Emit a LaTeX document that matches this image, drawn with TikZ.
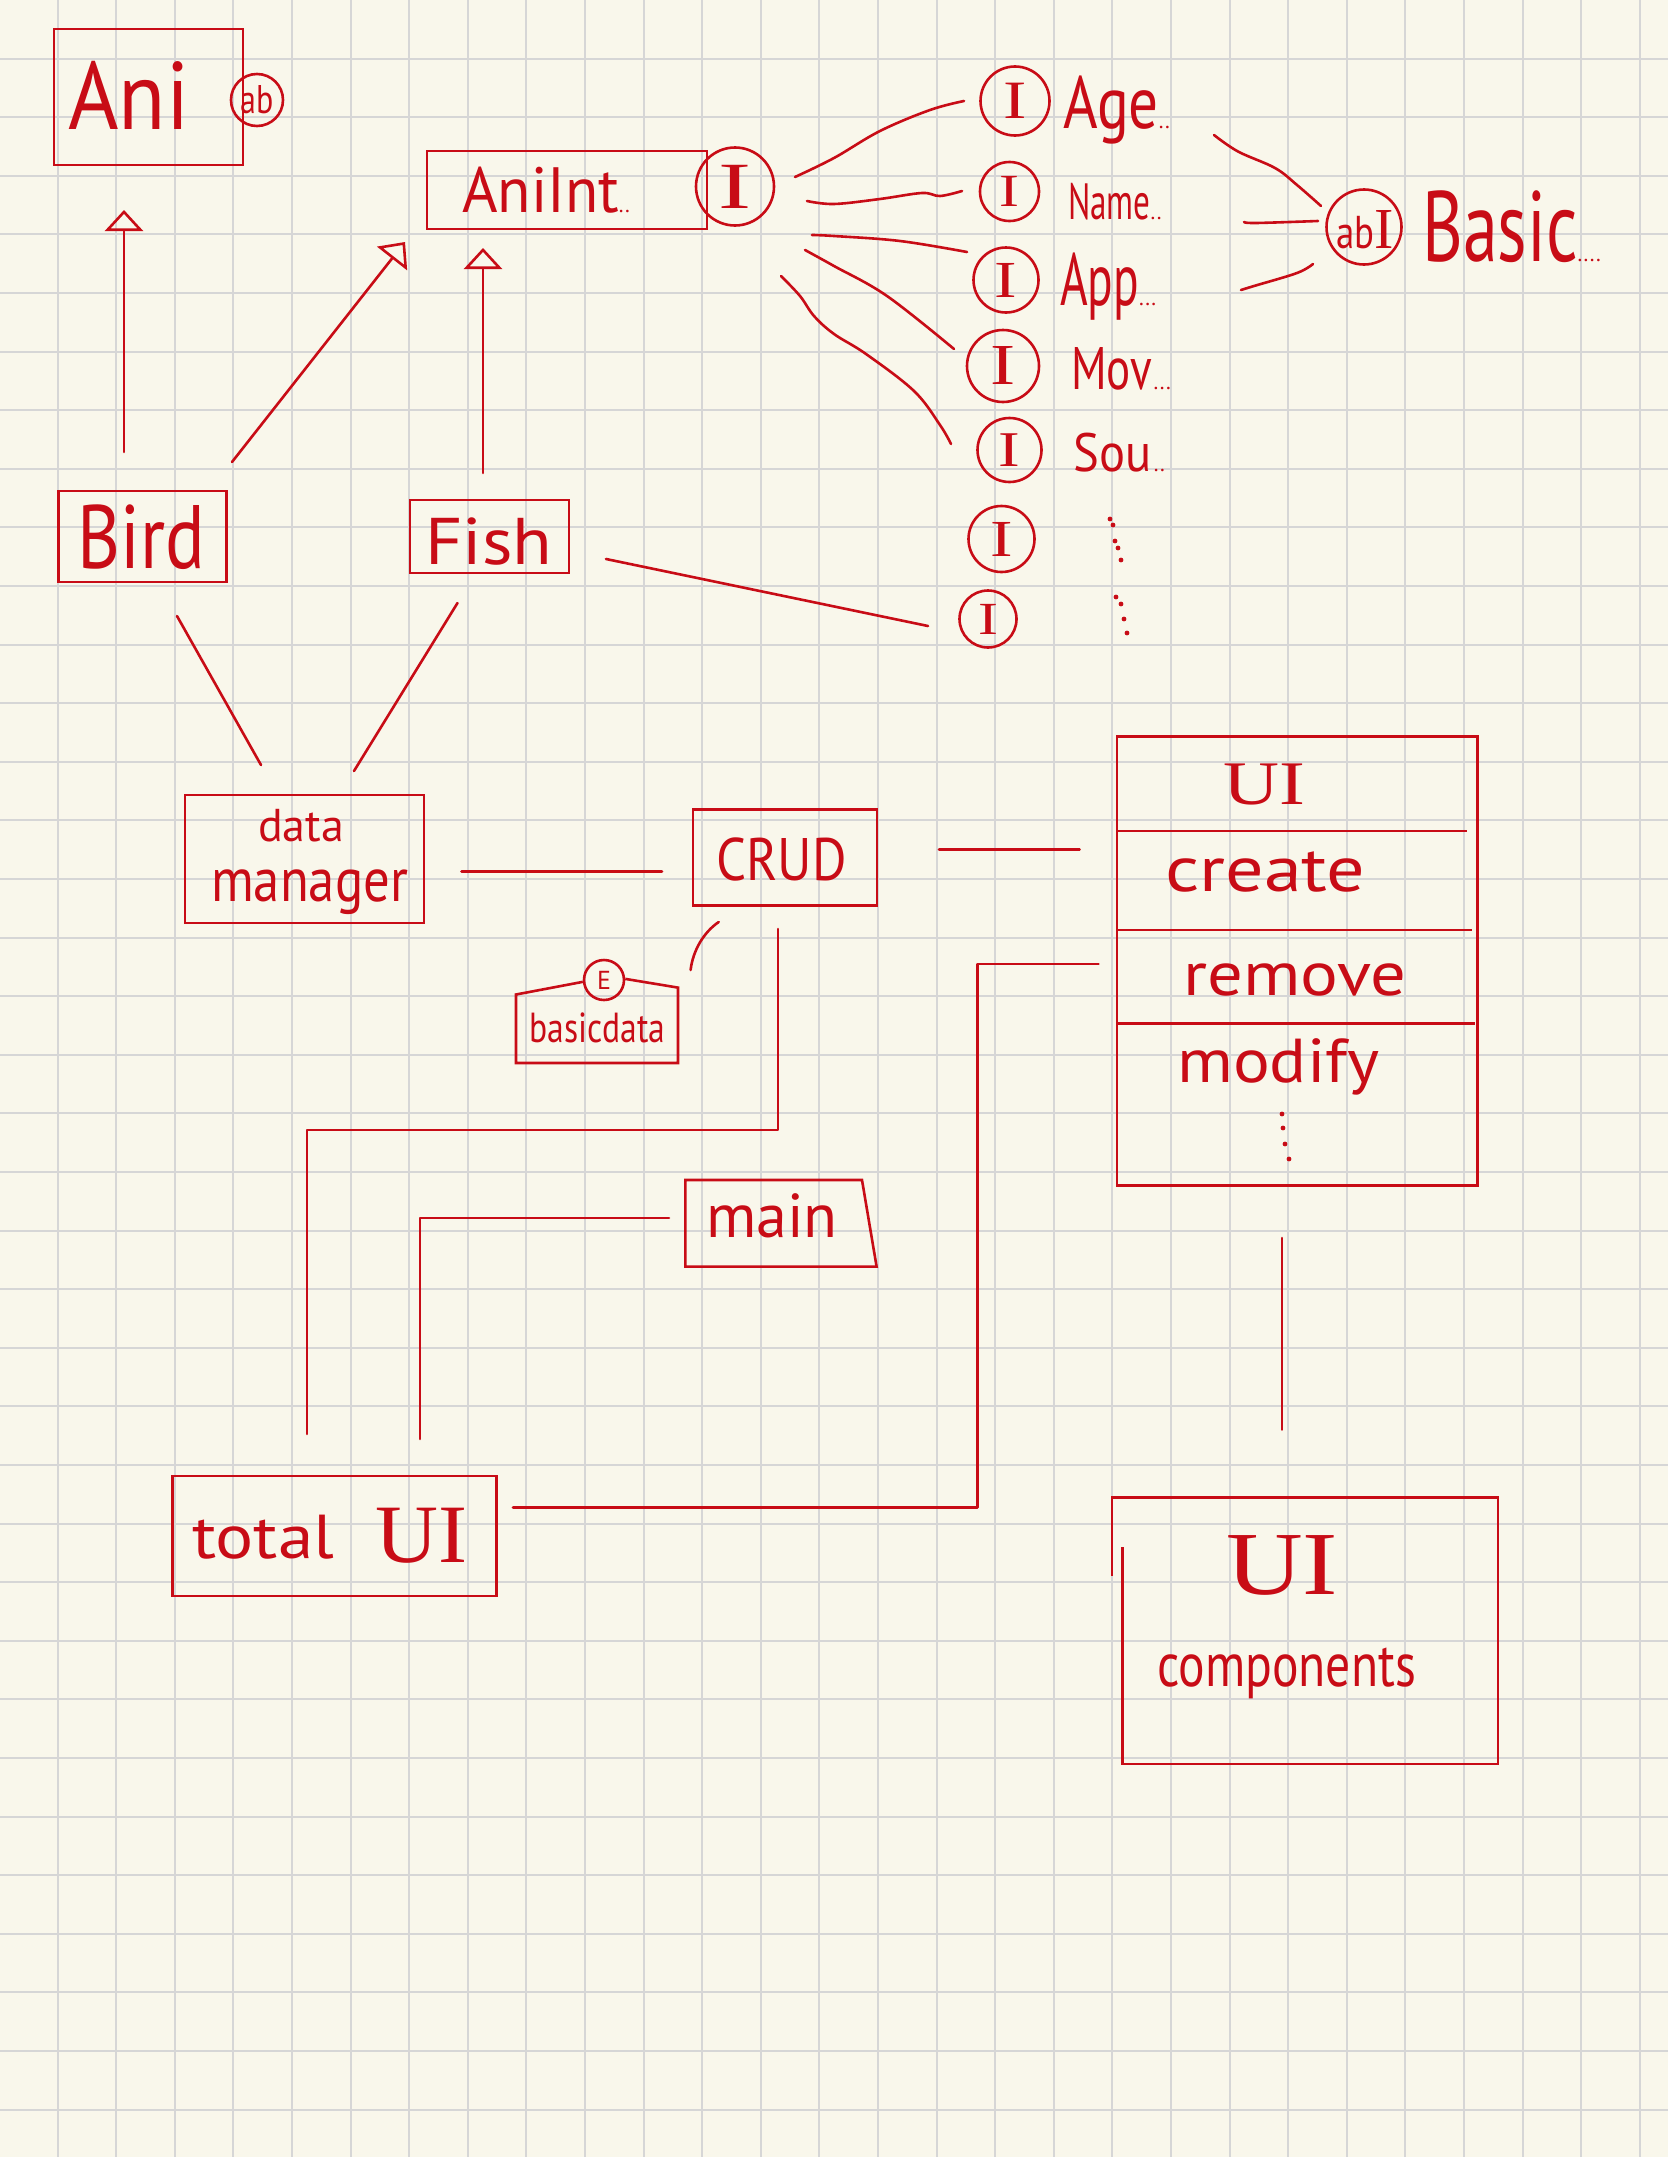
\documentclass[tikz,border=0pt]{standalone}
\usepackage{fontspec}
\setmainfont{PT Sans}
\newfontfamily\serifI{Liberation Serif}
\usetikzlibrary{arrows.meta}
\definecolor{inkc}{RGB}{200,12,22}
\definecolor{paperc}{RGB}{249,247,235}
\definecolor{gridc}{RGB}{214,214,214}
\newcommand{\hw}[3]{\scalebox{#1}[1]{\fontsize{#2}{#2}\selectfont #3}}
\newcommand{\dd}[1]{{\fontsize{22}{22}\selectfont #1}}
\begin{document}
\begin{tikzpicture}[x=1pt,y=-1pt,
  box/.style={draw=inkc, line width=2.6pt, rectangle, inner sep=0pt},
  circ/.style={draw=inkc, line width=2.6pt, circle, inner sep=0pt, text=inkc},
  lbl/.style={text=inkc, inner sep=0pt},
  conn/.style={draw=inkc, line width=2.6pt, line cap=round, line join=round},
  gen/.style={conn, -{Triangle[open,length=21pt,width=38pt,line width=2.6pt]}},
  shp/.style={draw=inkc, line width=2.6pt, line join=miter},
  dotc/.style={fill=inkc}
]
\fill[paperc] (0,0) rectangle (1668,2157);
\useasboundingbox (0,0) rectangle (1668,2157);
\foreach \i in {1,...,28} \draw[gridc, line width=2pt] ({58.6*\i-1},0) -- ({58.6*\i-1},2157);
\foreach \j in {1,...,36} \draw[gridc, line width=2pt] (0,{58.6*\j}) -- (1668,{58.6*\j});

% ---------- top-left classes ----------
\node[box, minimum width=189pt, minimum height=136pt] (ani) at (148.5,97) {};
\node[lbl, anchor=base west] (tani) at (68,129) {\hw{0.9}{96}{Ani}};
\node[circ, minimum size=52pt] (ab) at (257,100) {\hw{0.8}{40}{ab}};

\node[box, minimum width=280pt, minimum height=78pt] (aniint) at (567,190) {};
\node[lbl, anchor=base west] (taniint) at (462,212) {\hw{0.95}{64}{AniInt}\dd{..}};
\node[circ, minimum size=78pt] (ic) at (735,186.5) {\serifI\hw{1.5}{66}{I}};

\node[box, minimum width=168pt, minimum height=91pt] (bird) at (142.5,536.5) {};
\node[lbl, anchor=base west] (tbird) at (77,568) {\hw{0.82}{90}{Bird}};
\node[box, minimum width=159pt, minimum height=73pt] (fish) at (489.3,536.5) {};
\node[lbl, anchor=base west] (tfish) at (425,564) {\hw{1.1}{66}{Fish}};

% generalisation arrows
\coordinate (ga1) at (124,452); \coordinate (ga2) at (124,210);
\coordinate (gb1) at (232,462); \coordinate (gb2) at (405,242);
\coordinate (gc1) at (483,473); \coordinate (gc2) at (483,248);
\draw[gen] (ga1) -- (ga2);
\draw[gen] (gb1) -- (gb2);
\draw[gen] (gc1) -- (gc2);

% ---------- interfaces ----------
\node[circ, minimum size=69pt] (i1) at (1015,101) {\serifI\hw{1.3}{54}{I}};
\node[circ, minimum size=59pt] (i2) at (1009.5,191.5) {\serifI\hw{1.3}{46}{I}};
\node[circ, minimum size=65pt] (i3) at (1006,280) {\serifI\hw{1.3}{52}{I}};
\node[circ, minimum size=72pt] (i4) at (1003,366) {\serifI\hw{1.3}{58}{I}};
\node[circ, minimum size=64pt] (i5) at (1009.5,450) {\serifI\hw{1.3}{50}{I}};
\node[circ, minimum size=66pt] (i6) at (1001.5,539) {\serifI\hw{1.3}{52}{I}};
\node[circ, minimum size=57pt] (i7) at (988,619) {\serifI\hw{1.3}{46}{I}};

\node[lbl, anchor=base west] (tage) at (1063,128) {\hw{0.8}{74}{Age}\dd{..}};
\node[lbl, anchor=base west] (tname) at (1068,219) {\hw{0.65}{51}{Name}\dd{..}};
\node[lbl, anchor=base west] (tapp) at (1060,305) {\hw{0.64}{74}{App}\dd{...}};
\node[lbl, anchor=base west] (tmov) at (1071,389) {\hw{0.75}{60}{Mov}\,\dd{...}};
\node[lbl, anchor=base west] (tsou) at (1073,471) {\hw{0.9}{54}{Sou}\ \dd{..}};

\foreach \p in {(1110,519),(1113,525),(1115,541),(1118,548),(1121,560),(1116,597),(1121,604),(1124,619),(1127,633)}
  \fill[dotc] \p circle (2.4pt);

\node[circ, minimum size=75pt] (abi) at (1364,227) {};
\node[lbl, anchor=base west] (tabi) at (1336,248) {\hw{0.8}{46}{ab}{\serifI\fontsize{58}{58}\selectfont I}};
\node[lbl, anchor=base west] (tbasic) at (1422,261) {\hw{0.7}{100}{Basic}\dd{....}};

% interface connectors (hand curves)
\coordinate (c1s) at (795,177); \coordinate (c1e) at (964,101);
\coordinate (c2s) at (807,201); \coordinate (c2e) at (962,191);
\coordinate (c3s) at (812,235); \coordinate (c3e) at (967,252);
\coordinate (c4s) at (805,250); \coordinate (c4e) at (954,349);
\coordinate (c5s) at (781,276); \coordinate (c5e) at (951,444);
\draw[conn] plot[smooth, tension=0.6] coordinates {(c1s) (834,158) (880,131) (930,110) (c1e)};
\draw[conn] plot[smooth, tension=0.6] coordinates {(c2s) (834,204) (880,199) (922,193) (940,196) (c2e)};
\draw[conn] plot[smooth, tension=0.6] coordinates {(c3s) (834,236) (900,241) (c3e)};
\draw[conn] plot[smooth, tension=0.6] coordinates {(c4s) (834,266) (887,296) (c4e)};
\draw[conn] plot[smooth, tension=0.6] coordinates {(c5s) (800,296) (814,316) (834,334) (866,354) (914,391) (940,425) (c5e)};

\coordinate (b1s) at (1214,135); \coordinate (b1e) at (1321,206);
\coordinate (b2s) at (1244,222); \coordinate (b2e) at (1318,221);
\coordinate (b3s) at (1241,290); \coordinate (b3e) at (1313,264);
\draw[conn] plot[smooth, tension=0.6] coordinates {(b1s) (1238,151.5) (1275,168) (1297,185) (b1e)};
\draw[conn] plot[smooth, tension=0.6] coordinates {(b2s) (1256,223) (b2e)};
\draw[conn] plot[smooth, tension=0.6] coordinates {(b3s) (1254,286) (1297,273) (b3e)};

\coordinate (f7s) at (606,559); \coordinate (f7e) at (928,626);
\draw[conn] (f7s) -- (f7e);

% ---------- data manager / CRUD ----------
\node[box, minimum width=239pt, minimum height=128pt] (dm) at (304.5,859) {};
\node[lbl, anchor=base west] (tdata) at (258,841) {\hw{1}{46}{data}};
\node[lbl, anchor=base west] (tman) at (211,901) {\hw{0.85}{62}{manager}};
\node[box, minimum width=184pt, minimum height=96pt] (crud) at (784.8,857.75) {};
\node[lbl, anchor=base west] (tcrud) at (716,880) {\hw{0.88}{60}{CRUD}};

\coordinate (bd1) at (177,616); \coordinate (bd2) at (261,765);
\coordinate (fd1) at (457.5,603); \coordinate (fd2) at (354,771);
\coordinate (dc1) at (461.5,871.6); \coordinate (dc2) at (662,871.6);
\draw[conn] (bd1) -- (bd2);
\draw[conn] (fd1) -- (fd2);
\draw[conn] (dc1) -- (dc2);

% basic data enum
\node[circ, minimum size=40pt] (ec) at (604,980) {\fontsize{26}{26}\selectfont E};
\draw[shp] (ec.185) -- (516,994.5) -- (516,1063) -- (678,1063) -- (678,987.6) -- (ec.3);
\node[lbl, anchor=base west] (tbd) at (529,1042) {\hw{0.8}{42}{basicdata}};
\coordinate (bc1) at (690.6,970); \coordinate (bc2) at (718.7,922);
\draw[conn] (bc1) .. controls (693,950) and (704,932) .. (bc2);

% main
\draw[shp] (685.4,1180) -- (862,1180) -- (876.6,1266.6) -- (685.4,1266.6) -- cycle;
\node[lbl, anchor=base west] (tmain) at (706,1237) {\hw{1}{62}{main}};

% total UI
\node[box, minimum width=324pt, minimum height=120pt] (tot) at (334.6,1536) {};
\node[lbl, anchor=base west] (ttotal) at (192,1558) {\hw{1.15}{62}{total}};
\node[lbl, anchor=base west] (ttui) at (375,1562) {\serifI\hw{1.05}{83}{UI}};

\coordinate (ct1) at (778,929); \coordinate (ct2) at (307,1434);
\draw[conn] (ct1) -- (778,1130) -- (307,1130) -- (ct2);
\coordinate (mt1) at (669,1218); \coordinate (mt2) at (420,1439);
\draw[conn] (mt1) -- (420,1218) -- (mt2);

% UI class
\node[box, minimum width=360.5pt, minimum height=449pt] (uic) at (1297.25,960.95) {};
\draw[shp] (1117,831) -- (1467,831);
\draw[shp] (1117,930) -- (1472,930);
\draw[shp] (1117,1023.4) -- (1474.5,1023.4);
\node[lbl, anchor=base west] (tuic) at (1223,804) {\serifI\hw{1.25}{62}{UI}};
\node[lbl, anchor=base west] (tcreate) at (1165,891) {\hw{1.19}{64}{create}};
\node[lbl, anchor=base west] (tremove) at (1183,995) {\hw{1.14}{62}{remove}};
\node[lbl, anchor=base west] (tmodify) at (1177,1082) {\hw{1.11}{62}{modify}};
\foreach \p in {(1282,1114),(1283,1128),(1285,1144),(1289,1159)}
  \fill[dotc] \p circle (2.4pt);

\coordinate (cu1) at (939,849.4); \coordinate (cu2) at (1079.6,849.4);
\draw[conn] (cu1) -- (cu2);
\coordinate (tr1) at (513,1507.3); \coordinate (tr2) at (1098.5,963.8);
\draw[conn] (tr1) -- (977.6,1507.3) -- (977.6,963.8) -- (tr2);

% UI components
\draw[shp] (1112,1575.5) -- (1112,1497.6) -- (1498,1497.6) -- (1498,1764) -- (1122.4,1764) -- (1122.4,1547);
\node[lbl, anchor=base west] (tuic2) at (1226,1594) {\serifI\hw{1.18}{90}{UI}};
\node[lbl, anchor=base west] (tcomp) at (1157,1686) {\hw{0.8}{62}{components}};
\coordinate (uc1) at (1282,1238); \coordinate (uc2) at (1282,1429.6);
\draw[conn] (uc1) -- (uc2);
\end{tikzpicture}
\end{document}
